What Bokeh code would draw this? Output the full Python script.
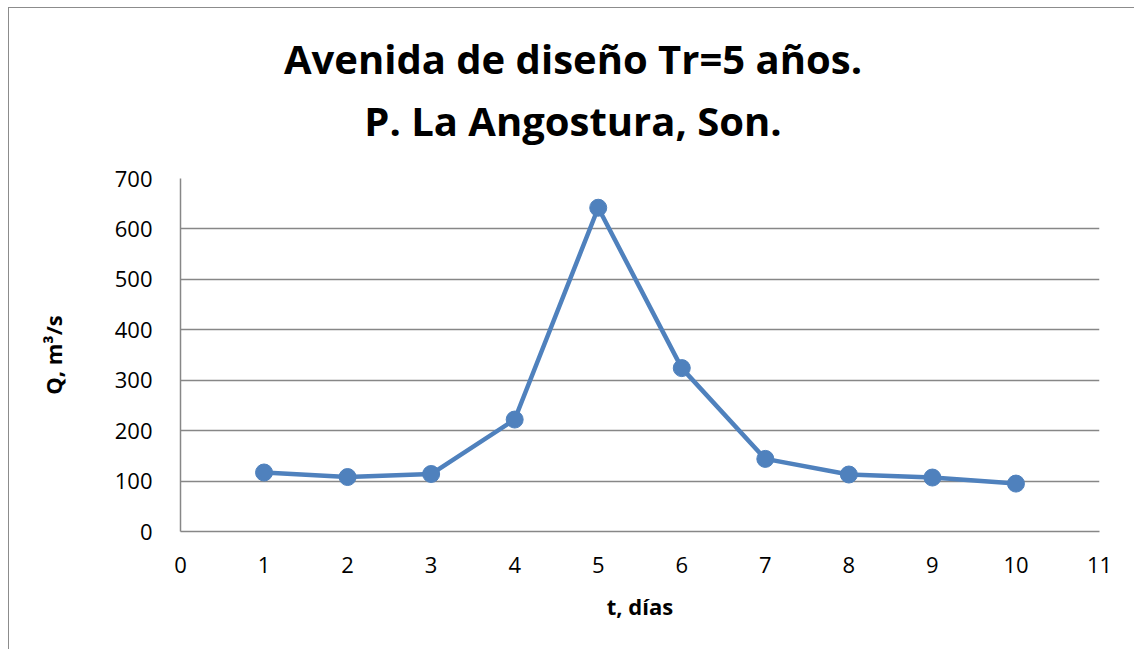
from bokeh.plotting import figure
from bokeh.models import Div, SingleIntervalTicker, Range1d
from bokeh.layouts import column
from bokeh.embed import file_html
from bokeh.resources import INLINE

dias = [1, 2, 3, 4, 5, 6, 7, 8, 9, 10]
caudal = [117, 108, 114, 222, 642, 324, 144, 113, 107, 95]
titulo_1 = "Avenida de diseño Tr=5 años."
titulo_2 = "P. La Angostura, Son."
x_label = "t, días"
y_label = "Q, m³/s"

FONT = "Open Sans"
GRAY = "#878787"
BLUE = "#4F81BD"

p = figure(width=1125, height=486, output_backend="svg", toolbar_location=None,
           x_range=Range1d(0, 11), y_range=Range1d(0, 700),
           min_border_left=171, min_border_right=35, min_border_top=15, min_border_bottom=118)
p.outline_line_color = None
p.background_fill_color = "white"
p.border_fill_color = "white"

p.xaxis.ticker = SingleIntervalTicker(interval=1)
p.yaxis.ticker = SingleIntervalTicker(interval=100)
p.xgrid.grid_line_color = None
p.ygrid.grid_line_color = GRAY
p.ygrid.grid_line_width = 1.3

for ax in (p.xaxis, p.yaxis):
    ax.axis_line_color = GRAY
    ax.axis_line_width = 1.5
    ax.major_tick_line_color = None
    ax.minor_tick_line_color = None
    ax.major_label_text_font = FONT
    ax.major_label_text_font_size = "22px"
    ax.major_label_text_color = "black"
    ax.axis_label_text_font = FONT
    ax.axis_label_text_font_size = "22px"
    ax.axis_label_text_font_style = "bold"
    ax.axis_label_text_color = "black"

p.xaxis.major_label_standoff = 19
p.yaxis.major_label_standoff = 22
p.xaxis.axis_label = x_label
p.yaxis.axis_label = y_label
p.xaxis.axis_label_standoff = 15
p.yaxis.axis_label_standoff = 44

p.line(dias, caudal, line_color=BLUE, line_width=4.5)
p.scatter(dias, caudal, size=17, fill_color=BLUE, line_color=BLUE)

title_html = (
    f'<div style="width:1125px; box-sizing:border-box; padding:20px 0 0 3px; text-align:center; '
    f'font-family:\'{FONT}\'; font-weight:bold; font-size:40px; line-height:62px; color:black;">'
    f'{titulo_1}<br>{titulo_2}</div>'
)
title_div = Div(text=title_html, width=1125, height=155, margin=0,
                styles={"background-color": "white"})

layout = column(title_div, p, spacing=0)
layout.styles = {"margin-left": "8px", "margin-top": "7px", "background-color": "white",
                 "border-left": "1px solid #8c8c8c", "border-top": "1px solid #8c8c8c"}

open("out.html", "w").write(file_html(layout, INLINE))
